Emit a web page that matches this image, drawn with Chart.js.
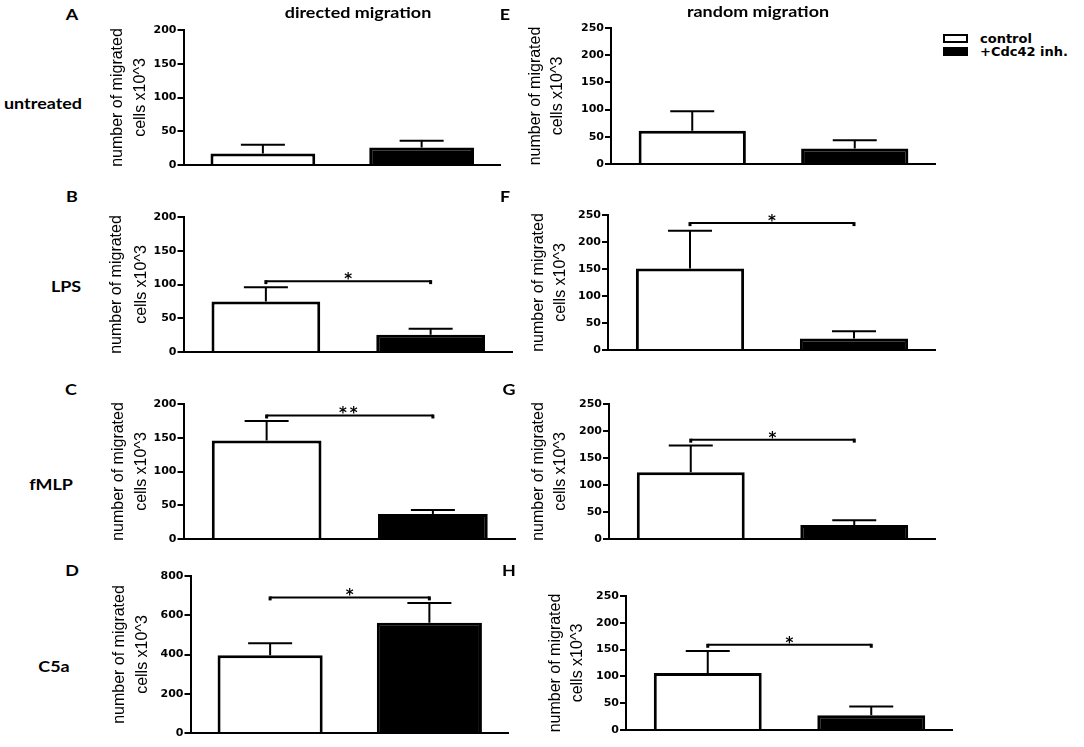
<!DOCTYPE html>
<html>
<head>
<meta charset="utf-8">
<script src="https://cdn.jsdelivr.net/npm/chart.js@4.4.1/dist/chart.umd.min.js"></script>
<style>
  html, body { margin: 0; padding: 0; background: #fff; }
  #fig { position: relative; width: 1084px; height: 747px; overflow: hidden; }
  #fig canvas { position: absolute; }
  .lbl { position: absolute; font-family: Lato, "Open Sans", sans-serif; font-weight: 700; font-size: 16px;
         color: #000; white-space: nowrap; transform: translate(-50%, -50%) scaleX(1.12); }
  .legtxt { position: absolute; font-family: "DejaVu Sans", sans-serif; font-weight: bold; font-size: 13px;
            color: #000; white-space: nowrap; transform: translateY(-50%); }
  .legbox { position: absolute; width: 21px; height: 5px; border: 2px solid #000; }
</style>
</head>
<body>
<div id="fig"></div>
<script>
// data (x10^3 migrated cells, mean and SEM)
const panelLetters = ['A', 'B', 'C', 'D', 'E', 'F', 'G', 'H'];
const treatments = ['untreated', 'LPS', 'fMLP', 'C5a'];
const columnTitles = ['directed migration', 'random migration'];
const groupLabels = ['control', '+Cdc42 inh.'];
const axisTitle = ['number of migrated', 'cells x10^3'];

const controlMeans = [17, 75, 146, 396, 61, 151, 123.5, 106.5];
const controlSem   = [13, 21, 29, 61, 36, 70, 49.5, 41];
const inhibMeans   = [26, 25.5, 37, 562, 28.5, 21.5, 26, 27.5];
const inhibSem     = [10, 9, 6, 100, 15, 13, 8.5, 16.5];

const yMax  = [200, 200, 200, 800, 250, 250, 250, 250];
const yStep = [50, 50, 50, 200, 50, 50, 50, 50];

// significance bracket height (data units) and its mark
const sigLevel = [null, 105, 183, 691, null, 235, 184, 159];
const sigMark  = ['', '*', '**', '*', '', '*', '*', '*'];

// where each panel sits on the page
const layout = [
  { axisX: 183, axisEnd: 500, top: 30,  zero: 173, titleX: 117, gap: 23 },
  { axisX: 183, axisEnd: 512, top: 217, zero: 360, titleX: 116, gap: 25 },
  { axisX: 183, axisEnd: 515, top: 404, zero: 547, titleX: 118, gap: 23 },
  { axisX: 190, axisEnd: 508, top: 576, zero: 741, titleX: 119, gap: 23 },
  { axisX: 611, axisEnd: 935, top: 28,  zero: 172, titleX: 536, gap: 22 },
  { axisX: 608, axisEnd: 935, top: 215, zero: 358, titleX: 539, gap: 22 },
  { axisX: 609, axisEnd: 935, top: 404, zero: 547, titleX: 539, gap: 22 },
  { axisX: 626, axisEnd: 952, top: 596, zero: 738, titleX: 556, gap: 22 }
];
const letterPos = [[72, 13], [72, 195], [71, 388], [72, 569], [505, 13], [505, 195], [509, 388], [509, 569]];
const treatPos = [[43, 102], [66, 285], [51, 483], [54, 665]];
const titlePos = [[358, 11], [758, 10]];

const fig = document.getElementById('fig');

function addText(text, x, y, cls) {
  const d = document.createElement('div');
  d.className = cls;
  d.textContent = text;
  d.style.left = x + 'px';
  d.style.top = y + 'px';
  fig.appendChild(d);
  return d;
}

// error bars + significance bracket
const errorBars = {
  id: 'errorBars',
  afterDatasetsDraw(chart, args, opts) {
    const ctx = chart.ctx;
    const ys = chart.scales.y;
    const meta = chart.getDatasetMeta(0);
    ctx.save();
    ctx.strokeStyle = '#000';
    ctx.lineWidth = 2;
    meta.data.forEach((bar, i) => {
      const top = ys.getPixelForValue(opts.means[i] + opts.sems[i]);
      ctx.beginPath();
      ctx.moveTo(bar.x, bar.y);
      ctx.lineTo(bar.x, top);
      ctx.moveTo(bar.x - 22, top);
      ctx.lineTo(bar.x + 22, top);
      ctx.stroke();
    });
    if (opts.sig != null) {
      const x0 = meta.data[0].x, x1 = meta.data[1].x;
      const sy = ys.getPixelForValue(opts.sig);
      ctx.beginPath();
      ctx.moveTo(x0, sy);
      ctx.lineTo(x1, sy);
      ctx.stroke();
      ctx.fillStyle = '#000';
      ctx.fillRect(x0 - 1.5, sy - 1, 3, 4);
      ctx.fillRect(x1 - 1.5, sy - 1, 3, 4);
      ctx.font = 'bold 15px "DejaVu Sans"';
      ctx.textAlign = 'center';
      ctx.textBaseline = 'alphabetic';
      ctx.letterSpacing = opts.mark.length > 1 ? '3px' : '0px';
      ctx.fillText(opts.mark, (x0 + x1) / 2, sy + 3);
    }
    ctx.restore();
  }
};

panelLetters.forEach((letter, i) => {
  const L = layout[i];
  const left = L.titleX - L.gap / 2;
  const top = L.top - 10;
  const w = L.axisEnd - left + 1;
  const h = L.zero - top + 10;
  const cv = document.createElement('canvas');
  cv.width = w; cv.height = h;
  cv.style.left = left + 'px';
  cv.style.top = top + 'px';
  fig.appendChild(cv);

  new Chart(cv.getContext('2d'), {
    type: 'bar',
    data: {
      labels: groupLabels,
      datasets: [{
        data: [controlMeans[i], inhibMeans[i]],
        backgroundColor: ['#ffffff', '#000000'],
        borderColor: '#000000',
        borderWidth: 3,
        barPercentage: 0.66,
        categoryPercentage: 1
      }]
    },
    options: {
      responsive: false,
      animation: false,
      devicePixelRatio: 1,
      layout: { padding: { top: 10, bottom: 10, left: 0, right: 0 } },
      plugins: {
        legend: { display: false },
        tooltip: { enabled: false },
        errorBars: {
          means: [controlMeans[i], inhibMeans[i]],
          sems: [controlSem[i], inhibSem[i]],
          sig: sigLevel[i],
          mark: sigMark[i]
        }
      },
      scales: {
        x: {
          grid: { display: false },
          border: { display: true, color: '#000', width: 2 },
          ticks: { display: false }
        },
        y: {
          min: 0,
          max: yMax[i],
          ticks: {
            stepSize: yStep[i],
            color: '#000',
            padding: 1,
            font: { family: 'DejaVu Sans', weight: 'bold', size: 11 }
          },
          grid: { display: true, drawOnChartArea: false, drawTicks: true, tickLength: 6, color: '#000', lineWidth: 2 },
          border: { display: true, color: '#000', width: 2 },
          title: {
            display: true,
            text: axisTitle,
            color: '#000',
            padding: { top: 0, bottom: 0 },
            font: { family: 'Liberation Sans', size: 16, lineHeight: L.gap + 'px' }
          },
          afterFit: s => { s.width = L.axisX - left; }
        }
      }
    },
    plugins: [errorBars]
  });

  addText(letter, letterPos[i][0], letterPos[i][1], 'lbl');
});

treatments.forEach((t, i) => addText(t, treatPos[i][0], treatPos[i][1], 'lbl'));
columnTitles.forEach((t, i) => addText(t, titlePos[i][0], titlePos[i][1], 'lbl'));

// legend
const b1 = document.createElement('div');
b1.className = 'legbox';
b1.style.left = '943px'; b1.style.top = '34px'; b1.style.background = '#fff';
fig.appendChild(b1);
const b2 = document.createElement('div');
b2.className = 'legbox';
b2.style.left = '943px'; b2.style.top = '47px'; b2.style.background = '#000';
fig.appendChild(b2);
addText(groupLabels[0], 980, 38, 'legtxt');
addText(groupLabels[1], 980, 51, 'legtxt');
</script>
</body>
</html>
